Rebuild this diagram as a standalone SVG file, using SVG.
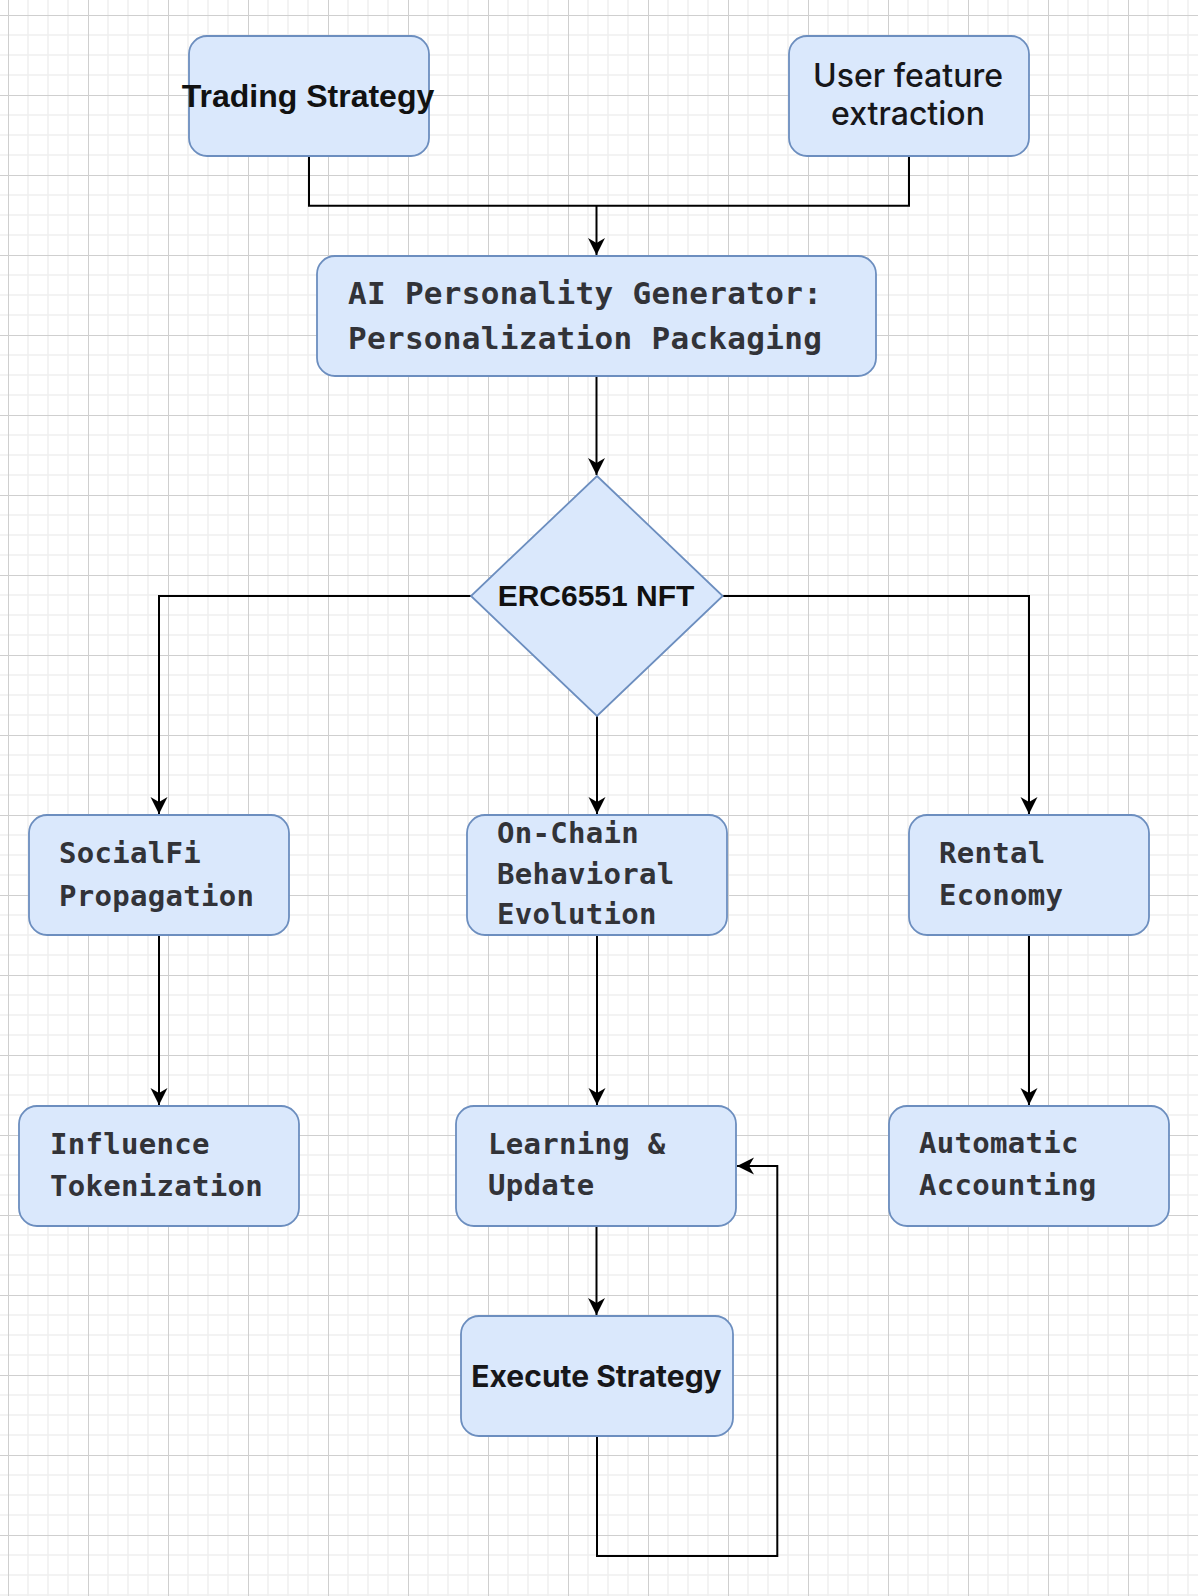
<svg xmlns="http://www.w3.org/2000/svg" width="1198" height="1596" viewBox="0 0 1198 1596">
<defs>
<pattern id="grid" patternUnits="userSpaceOnUse" x="8" y="15" width="80" height="80">
<path d="M20 0V80M40 0V80M60 0V80M0 20H80M0 40H80M0 60H80" stroke="#efefef" stroke-width="1.5" fill="none"/>
<path d="M0.5 0V80M0 0.5H80" stroke="#cfcfcf" stroke-width="1" fill="none"/>
</pattern>
<marker id="arr" markerUnits="userSpaceOnUse" markerWidth="20" markerHeight="20" viewBox="-18 -10 20 20" refX="0" refY="0" orient="auto">
<path d="M0 0L-17 -8.5L-12 0L-17 8.5Z" fill="#000"/>
</marker>
</defs>
<style>
.box{fill:#dae8fc;stroke:#6c8ebf;stroke-width:1.8}
.mono{font-family:"DejaVu Sans Mono","Liberation Mono",monospace;font-weight:bold;font-size:29px;letter-spacing:0.3px;fill:#323338}
.ai{font-size:31px}
.sansb{font-family:"Liberation Sans",Arial,sans-serif;font-weight:bold;fill:#111;text-anchor:middle}
.inter{font-family:Inter,"Liberation Sans",sans-serif;fill:#17171a;text-anchor:middle}
.edge{fill:none;stroke:#000;stroke-width:2}
</style>
<rect width="1198" height="1596" fill="#fff"/>
<rect width="1198" height="1596" fill="url(#grid)"/>
<g id="connectors">
<path class="edge" d="M309 156V205.7H909V156"/>
<path class="edge" d="M596.5 205.7V255" marker-end="url(#arr)"/>
<path class="edge" d="M596.5 376V475" marker-end="url(#arr)"/>
<path class="edge" d="M471 596H159V814" marker-end="url(#arr)"/>
<path class="edge" d="M597 716V814" marker-end="url(#arr)"/>
<path class="edge" d="M722.7 596H1029V814" marker-end="url(#arr)"/>
<path class="edge" d="M159 935V1105" marker-end="url(#arr)"/>
<path class="edge" d="M597 935V1105" marker-end="url(#arr)"/>
<path class="edge" d="M1029 935V1105" marker-end="url(#arr)"/>
<path class="edge" d="M596.5 1226V1315" marker-end="url(#arr)"/>
<path class="edge" d="M597 1436V1556H777.3V1166H737" marker-end="url(#arr)"/>
</g>
<g id="trading-strategy">
<rect class="box" x="189" y="36" width="240" height="120" rx="18"/>
<text class="sansb" x="308" y="107" font-size="32">Trading Strategy</text>
</g>
<g id="user-feature-extraction">
<rect class="box" x="789" y="36" width="240" height="120" rx="18"/>
<text class="inter" font-weight="500" font-size="32" x="908" y="87">User feature</text>
<text class="inter" font-weight="500" font-size="32" x="908" y="125">extraction</text>
</g>
<g id="ai-personality-generator">
<rect class="box" x="317" y="256" width="559" height="120" rx="18"/>
<text class="mono ai" x="348" y="304">AI Personality Generator:</text>
<text class="mono ai" x="348" y="349">Personalization Packaging</text>
</g>
<g id="erc6551-nft">
<path class="box" d="M597 476L722.7 596L597 716L471 596Z"/>
<text class="sansb" x="596" y="606" font-size="30">ERC6551 NFT</text>
</g>
<g id="socialfi-propagation">
<rect class="box" x="29" y="815" width="260" height="120" rx="18"/>
<text class="mono" x="59" y="863">SocialFi</text>
<text class="mono" x="59" y="906">Propagation</text>
</g>
<g id="on-chain-behavioral-evolution">
<rect class="box" x="467" y="815" width="260" height="120" rx="18"/>
<text class="mono" x="497" y="843">On-Chain</text>
<text class="mono" x="497" y="884">Behavioral</text>
<text class="mono" x="497" y="924">Evolution</text>
</g>
<g id="rental-economy">
<rect class="box" x="909" y="815" width="240" height="120" rx="18"/>
<text class="mono" x="939" y="863">Rental</text>
<text class="mono" x="939" y="905">Economy</text>
</g>
<g id="influence-tokenization">
<rect class="box" x="19" y="1106" width="280" height="120" rx="18"/>
<text class="mono" x="50" y="1154">Influence</text>
<text class="mono" x="50" y="1196">Tokenization</text>
</g>
<g id="learning-update">
<rect class="box" x="456" y="1106" width="280" height="120" rx="18"/>
<text class="mono" x="488" y="1154">Learning &amp;</text>
<text class="mono" x="488" y="1195">Update</text>
</g>
<g id="automatic-accounting">
<rect class="box" x="889" y="1106" width="280" height="120" rx="18"/>
<text class="mono" x="919" y="1153">Automatic</text>
<text class="mono" x="919" y="1195">Accounting</text>
</g>
<g id="execute-strategy">
<rect class="box" x="461" y="1316" width="272" height="120" rx="18"/>
<text class="inter" font-weight="bold" font-size="30" x="596.5" y="1387">Execute Strategy</text>
</g>
</svg>
